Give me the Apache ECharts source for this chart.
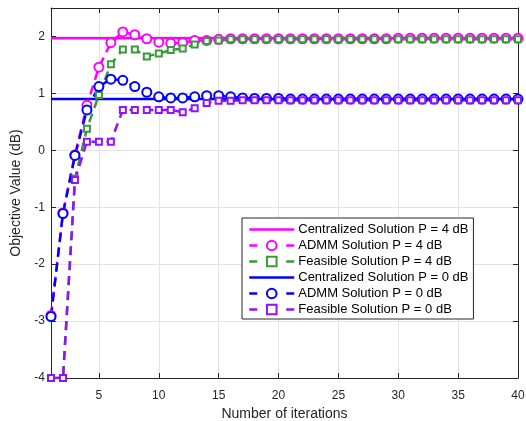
<!DOCTYPE html>
<html><head><meta charset="utf-8">
<script src="https://cdn.jsdelivr.net/npm/echarts@6/dist/echarts.min.js"></script>
<style>html,body{margin:0;padding:0;background:#fff}#c{width:526px;height:421px}</style>
</head><body><div id="c"></div>
<script>
const iterations = [1,2,3,4,5,6,7,8,9,10,11,12,13,14,15,16,17,18,19,20,21,22,23,24,25,26,27,28,29,30,31,32,33,34,35,36,37,38,39,40];
const xTicks = [5,10,15,20,25,30,35,40];
const yTicks = [-4,-3,-2,-1,0,1,2];
const central4 = 1.97;
const central0 = 0.90;
const admm4 = [-2.90,-1.10,-0.08,0.79,1.46,1.89,2.08,2.03,1.96,1.90,1.88,1.89,1.93,1.93,1.95,1.96,1.96,1.96,1.96,1.96,1.96,1.96,1.96,1.96,1.96,1.96,1.96,1.96,1.96,1.97,1.97,1.97,1.97,1.97,1.97,1.97,1.97,1.97,1.97,1.97];
const feas4 = [-4,-4,-0.50,0.38,0.97,1.51,1.77,1.77,1.65,1.70,1.76,1.79,1.86,1.92,1.93,1.95,1.95,1.95,1.95,1.95,1.95,1.95,1.95,1.95,1.95,1.95,1.95,1.95,1.95,1.95,1.95,1.95,1.95,1.95,1.95,1.95,1.95,1.95,1.95,1.95];
const admm0 = [-2.92,-1.11,-0.09,0.71,1.12,1.25,1.23,1.12,1.02,0.94,0.92,0.92,0.94,0.96,0.96,0.94,0.92,0.91,0.91,0.91,0.90,0.90,0.90,0.90,0.90,0.90,0.90,0.90,0.90,0.90,0.90,0.90,0.90,0.90,0.90,0.90,0.90,0.90,0.90,0.90];
const feas0 = [-4,-4,-0.52,0.15,0.15,0.15,0.71,0.71,0.71,0.71,0.71,0.67,0.74,0.83,0.87,0.87,0.88,0.88,0.88,0.88,0.88,0.88,0.88,0.88,0.88,0.88,0.88,0.88,0.88,0.88,0.88,0.88,0.88,0.88,0.88,0.88,0.88,0.88,0.88,0.88];
const names = ['Centralized Solution P = 4 dB','ADMM Solution P = 4 dB','Feasible Solution P = 4 dB','Centralized Solution P = 0 dB','ADMM Solution P = 0 dB','Feasible Solution P = 0 dB'];

const MAG='#ff00ff', GRN='#3a9a3a', BLU='#0000ff', PUR='#9013fe';
const FONT='Liberation Sans, Arial, sans-serif';
const pts = arr => iterations.map((x,i)=>[x,arr[i]]);
const flat = v => iterations.map(x=>[x,v]);
const dash=[9,6];
function solid(name,color,v){return {name,type:'line',data:flat(v),showSymbol:false,symbol:'none',lineStyle:{color,width:2.5},itemStyle:{color},z:2,animation:false};}
function marked(name,color,arr,sym,size,bw){return {name,type:'line',data:pts(arr),symbol:sym,symbolSize:size,showSymbol:true,lineStyle:{color,width:2.5,type:dash},itemStyle:{color:color,borderColor:color,borderWidth:bw},z:3,animation:false};}

const barIcon = 'path://M0,0L45,0L45,0.01Z M0,4.8L45,4.8L45,7.2L0,7.2Z M0,12L45,12L45,11.99Z';
const legendDash = {type:[8,29],width:2.5};
const axisLine = {show:true,onZero:false,lineStyle:{color:'#262626',width:1}};
const chart = echarts.init(document.getElementById('c'),null,{renderer:'canvas'});
chart.setOption({
  backgroundColor:'#fff',
  animation:false,
  grid:{left:51,right:8,top:8,bottom:43,containLabel:false,outerBoundsMode:'none'},
  xAxis:[{type:'value',min:1,max:40,position:'bottom',
    axisLine:axisLine,
    axisTick:{show:true,inside:true,length:5,lineStyle:{color:'#262626'},customValues:xTicks},
    axisLabel:{customValues:xTicks,color:'#262626',fontSize:12,fontFamily:FONT,margin:12},
    splitLine:{show:true,lineStyle:{color:'#e3e3e3',width:1}},
    name:'Number of iterations',nameLocation:'middle',nameGap:27,nameTextStyle:{fontSize:14,color:'#262626',fontFamily:FONT}},
   {type:'value',min:1,max:40,position:'top',
    axisLine:axisLine,
    axisTick:{show:true,inside:true,length:5,lineStyle:{color:'#262626'},customValues:xTicks},
    axisLabel:{show:false,customValues:xTicks},splitLine:{show:false}}],
  yAxis:[{type:'value',min:-4,max:2.5,position:'left',
    axisLine:axisLine,
    axisTick:{show:true,inside:true,length:5,lineStyle:{color:'#262626'},customValues:yTicks},
    axisLabel:{customValues:yTicks,color:'#262626',fontSize:12,fontFamily:FONT,margin:6},
    splitLine:{show:true,lineStyle:{color:'#e3e3e3',width:1}},
    name:'Objective Value (dB)',nameLocation:'middle',nameGap:24,nameTextStyle:{fontSize:14,color:'#262626',fontFamily:FONT}},
   {type:'value',min:-4,max:2.5,position:'right',
    axisLine:axisLine,
    axisTick:{show:true,inside:true,length:5,lineStyle:{color:'#262626'},customValues:yTicks},
    axisLabel:{show:false,customValues:yTicks},splitLine:{show:false}}],
  legend:{show:true,orient:'vertical',left:242,top:218,itemWidth:45,itemHeight:12,itemGap:3,
    padding:[5,5,3,6],backgroundColor:'#fff',borderColor:'#262626',borderWidth:1,borderRadius:0,
    textStyle:{fontSize:13,color:'#000',fontFamily:FONT,padding:[0,0,0,-1]},
    data:[
      {name:names[0],icon:barIcon},
      {name:names[1],lineStyle:legendDash},
      {name:names[2],lineStyle:legendDash},
      {name:names[3],icon:barIcon},
      {name:names[4],lineStyle:legendDash},
      {name:names[5],lineStyle:legendDash}
    ]},
  series:[
    solid(names[0],MAG,central4),
    marked(names[1],MAG,admm4,'emptyCircle',9,2.5),
    marked(names[2],GRN,feas4,'emptyRect',6,3.5),
    solid(names[3],BLU,central0),
    marked(names[4],BLU,admm0,'emptyCircle',9,2.5),
    marked(names[5],PUR,feas0,'emptyRect',6,3.5)
  ]
});
</script></body></html>
